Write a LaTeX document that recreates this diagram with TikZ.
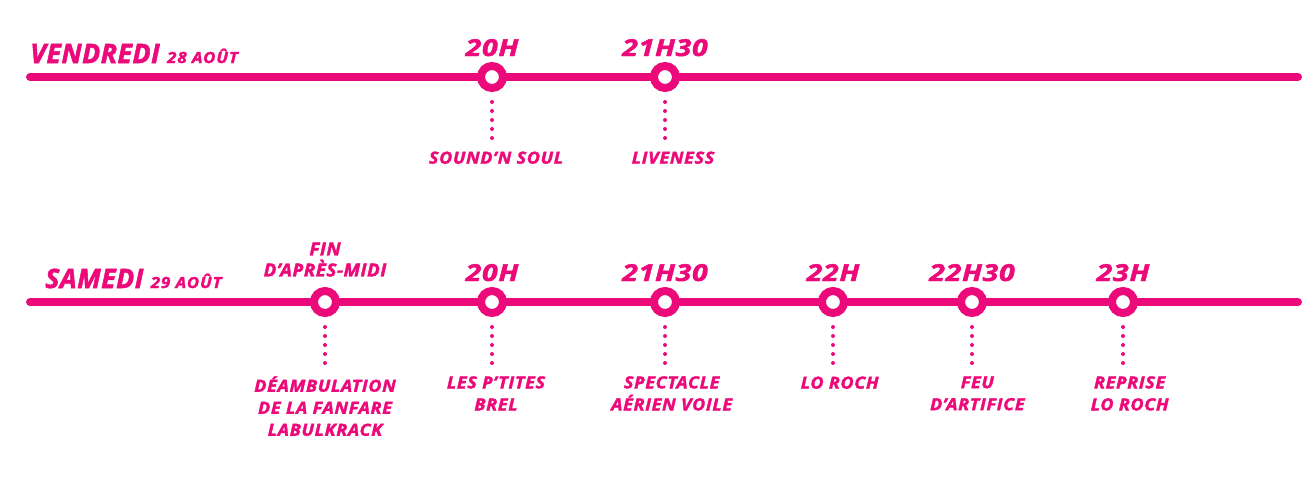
\documentclass[tikz,border=0pt]{standalone}
\usepackage{fontspec}
\setmainfont{Open Sans}
\usetikzlibrary{positioning}
\definecolor{FestPink}{HTML}{EC0A7A}

\tikzset{
  dayline/.style={FestPink, line width=6pt, line cap=round},
  slot/.style={circle, draw=FestPink, fill=white, line width=6pt, minimum size=16.5pt, inner sep=0pt},
  daylbl/.style={FestPink, anchor=base west, inner sep=0pt, font=\fontsize{20}{24}\selectfont\bfseries\itshape\addfontfeatures{FakeBold=2,LetterSpace=2}},
  hourlbl/.style={FestPink, anchor=base, inner sep=0pt, font=\fontsize{17.5}{20}\selectfont\bfseries\itshape\addfontfeatures{FakeBold=2,FakeStretch=1.22,LetterSpace=3}},
  actlbl/.style={FestPink, align=center, inner sep=0pt, yshift=-1.5pt, execute at begin node=\strut, font=\fontsize{12.5}{16.5}\selectfont\bfseries\itshape\addfontfeatures{FakeBold=2,FakeStretch=1.08,LetterSpace=4}},
  multi/.style={yshift=-2.25pt},
  finlbl/.style={actlbl, anchor=north, font=\fontsize{13.5}{15.75}\selectfont\bfseries\itshape\addfontfeatures{FakeBold=2,FakeStretch=1.04,LetterSpace=3}},
  dotlink/.style={FestPink, line width=3pt, line cap=round, dash pattern=on 0pt off 6.75pt, shorten <=7.5pt, shorten >=5.25pt},
  node distance=40.5pt
}
\newcommand{\daydate}[1]{{\fontsize{11.5}{14}\selectfont\addfontfeatures{FakeStretch=1.1,LetterSpace=6}#1}}

\begin{document}
\begin{tikzpicture}[x=0.75pt,y=-0.75pt]
\path[use as bounding box] (0,0) rectangle (1303,480);
% vendredi
\node[daylbl] (ven) at (30,63) {VENDREDI \daydate{28 AOÛT}};
\draw[dayline] (30,77) coordinate (ven0) -- (1298,77) coordinate (ven1);
\node[slot] (v1) at (492,77) {};
\node[slot] (v2) at (665,77) {};
\node[hourlbl] (hv1) at ([yshift=4.5pt]v1.north) {20H};
\node[hourlbl] (hv2) at ([yshift=4.5pt]v2.north) {21H30};
\node[actlbl, below=of v1, xshift=3pt] (av1) {SOUND’N SOUL};
\node[actlbl, below=of v2, xshift=6pt] (av2) {LIVENESS};
\draw[dotlink] (v1.south) -- (v1.south |- av1.north);
\draw[dotlink] (v2.south) -- (v2.south |- av2.north);
% samedi
\node[daylbl] (sam) at (45,288) {SAMEDI \daydate{29 AOÛT}};
\draw[dayline] (30,302) coordinate (sam0) -- (1298,302) coordinate (sam1);
\node[slot] (s1) at (325,302) {};
\node[slot] (s2) at (492,302) {};
\node[slot] (s3) at (665,302) {};
\node[slot] (s4) at (833,302) {};
\node[slot] (s5) at (972,302) {};
\node[slot] (s6) at (1123,302) {};
\node[finlbl] (hs1) at ([yshift=35pt]s1.north) {FIN\\D’APRÈS-MIDI};
\node[hourlbl] (hs2) at ([yshift=4.5pt]s2.north) {20H};
\node[hourlbl] (hs3) at ([yshift=4.5pt]s3.north) {21H30};
\node[hourlbl] (hs4) at ([yshift=4.5pt]s4.north) {22H};
\node[hourlbl] (hs5) at ([yshift=4.5pt]s5.north) {22H30};
\node[hourlbl] (hs6) at ([yshift=4.5pt]s6.north) {23H};
\node[actlbl, multi, below=of s1, xshift=0pt] (as1) {DÉAMBULATION\\DE LA FANFARE\\LABULKRACK};
\node[actlbl, multi, below=of s2, xshift=3pt] (as2) {LES P’TITES\\BREL};
\node[actlbl, multi, below=of s3, xshift=5pt] (as3) {SPECTACLE\\AÉRIEN VOILE};
\node[actlbl, below=of s4, xshift=5pt] (as4) {LO ROCH};
\node[actlbl, multi, below=of s5, xshift=4pt] (as5) {FEU\\D’ARTIFICE};
\node[actlbl, multi, below=of s6, xshift=5pt] (as6) {REPRISE\\LO ROCH};
\draw[dotlink] (s1.south) -- (s1.south |- as1.north);
\draw[dotlink] (s2.south) -- (s2.south |- as2.north);
\draw[dotlink] (s3.south) -- (s3.south |- as3.north);
\draw[dotlink] (s4.south) -- (s4.south |- as4.north);
\draw[dotlink] (s5.south) -- (s5.south |- as5.north);
\draw[dotlink] (s6.south) -- (s6.south |- as6.north);
\end{tikzpicture}
\end{document}
